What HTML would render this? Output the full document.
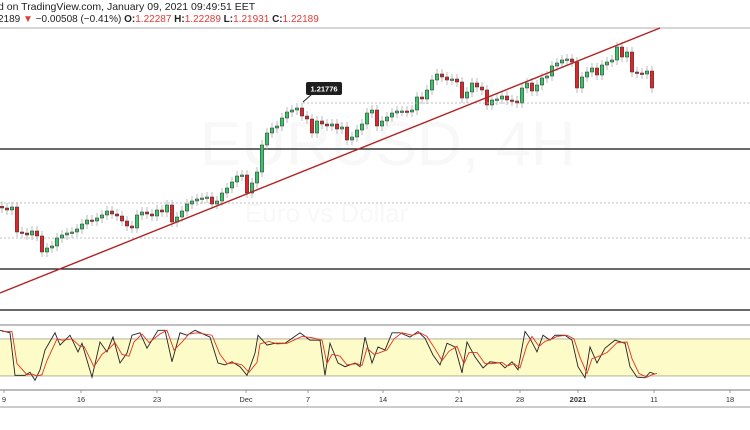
<!DOCTYPE html>
<html><head><meta charset="utf-8"><style>
body{margin:0;background:#fff;width:750px;height:430px;overflow:hidden;font-family:"Liberation Sans",sans-serif}
svg{display:block}
</style></head><body>
<svg id="chart" width="750" height="430" viewBox="0 0 750 430" xmlns="http://www.w3.org/2000/svg">
<text x="-2" y="10" font-size="10.5" fill="#222">d on TradingView.com, January 09, 2021 09:49:51 EET</text>
<text x="-2" y="22" font-size="10" fill="#222">2189 <tspan fill="#e53935">▼</tspan> −0.00508 (−0.41%) <tspan font-weight="bold">O:</tspan><tspan fill="#e53935">1.22287</tspan> <tspan font-weight="bold">H:</tspan><tspan fill="#e53935">1.22289</tspan> <tspan font-weight="bold">L:</tspan><tspan fill="#e53935">1.21931</tspan> <tspan font-weight="bold">C:</tspan><tspan fill="#e53935">1.22189</tspan></text>
<line x1="0" y1="28" x2="750" y2="28" stroke="#c8c8c8" stroke-width="1.5"/>
<text x="200" y="165" font-size="62" fill="#f8f8f8">EURUSD, 4H</text>
<text x="245" y="222" font-size="26" fill="#f8f8f8">Euro vs Dollar</text>
<g id="levels"></g>
<g id="candles"></g>
<g id="overlay"></g>
<g id="stoch"></g>
<g id="axis"></g>
</svg>
<script>
const closes=[1.1861,1.1855,1.1864,1.1789,1.1786,1.1780,1.1792,1.1777,1.1729,1.1741,1.1747,1.1771,1.1780,1.1786,1.1789,1.1798,1.1813,1.1825,1.1822,1.1831,1.1840,1.1852,1.1843,1.1837,1.1822,1.1807,1.1801,1.1840,1.1849,1.1843,1.1837,1.1855,1.1849,1.1870,1.1819,1.1834,1.1852,1.1873,1.1882,1.1888,1.1891,1.1894,1.1873,1.1882,1.1906,1.1921,1.1939,1.1957,1.1960,1.1906,1.1936,1.1969,1.2050,1.2086,1.2101,1.2107,1.2131,1.2149,1.2155,1.2161,1.2137,1.2128,1.2086,1.2122,1.2113,1.2107,1.2113,1.2098,1.2104,1.2065,1.2074,1.2095,1.2113,1.2146,1.2155,1.2107,1.2122,1.2134,1.2146,1.2152,1.2152,1.2149,1.2155,1.2194,1.2188,1.2215,1.2245,1.2263,1.2254,1.2245,1.2248,1.2239,1.2191,1.2209,1.2236,1.2224,1.2215,1.2170,1.2185,1.2188,1.2197,1.2185,1.2182,1.2176,1.2221,1.2236,1.2212,1.2230,1.2251,1.2257,1.2287,1.2296,1.2305,1.2308,1.2299,1.2221,1.2254,1.2269,1.2281,1.2260,1.2290,1.2299,1.2305,1.2344,1.2314,1.2329,1.2269,1.2266,1.2263,1.2272,1.2221];
const solidLevels=[1.2038,1.1678,1.1555];
const dottedLevels=[1.1876,1.1771];
const markedPrice=1.2176;
const markedLabel="1.21776";
const trendPrices=[1.1606,1.2401];
const stochX=[0,10,15,25,30,35,40,45,55,60,70,78,82,92,100,107,113,120,127,132,140,147,158,165,172,180,187,195,210,218,225,232,240,247,255,258,267,275,285,300,310,320,325,330,338,345,355,360,365,372,378,385,392,400,410,418,425,433,440,447,455,462,467,475,483,490,500,505,512,518,525,530,537,543,550,555,565,572,578,585,590,597,605,615,625,630,637,645,650,655];
const stochK=[94,90,21,21,26,13,30,62,90,70,86,59,73,18,75,59,83,41,57,86,90,65,94,94,43,90,86,94,83,41,38,43,35,21,57,86,70,73,73,90,78,78,21,73,41,35,41,35,83,41,67,62,90,90,83,92,81,54,38,73,67,25,75,51,33,43,41,33,43,30,92,81,59,86,78,86,86,78,35,17,67,41,65,78,73,35,18,17,26,23];
const stochD=[92,92,40,22,23,20,22,45,80,78,80,68,68,35,55,64,74,55,52,75,88,74,88,94,62,75,88,90,86,55,40,41,38,26,42,72,76,72,73,84,82,78,40,55,52,38,40,37,65,55,58,62,80,90,86,90,84,64,45,60,68,40,58,58,40,40,42,36,40,33,70,84,68,76,80,84,86,80,50,24,48,52,58,74,75,48,24,18,22,24];
const xTicks=[4,81,157,246,308,383,459,520,578,654,730];
const xLabels=["9","16","23","Dec","7","14","21","28","2021","11","18"];

const NS="http://www.w3.org/2000/svg";
function py(p){return 45+(1.2350-p)/0.0003;}
function cx(i){return 2+5*i;}
function sy(v){return 388.3-v*0.617;}
function mk(tag,attrs,parent){const e=document.createElementNS(NS,tag);for(const k in attrs)e.setAttribute(k,attrs[k]);parent.appendChild(e);return e;}

const lv=document.getElementById('levels');
solidLevels.forEach(p=>{const l=mk('line',{x1:0,x2:750,y1:py(p),y2:py(p),stroke:'#111','stroke-width':1.3},lv);

});
dottedLevels.forEach(p=>{const l=mk('line',{x1:0,x2:750,y1:py(p),y2:py(p),stroke:'#aaa','stroke-width':0.7,'stroke-dasharray':'2,2'},lv);

});

const cg=document.getElementById('candles');
closes.forEach((c,i)=>{
 const o=i>0?closes[i-1]:c+0.0005;
 const up=c>=o;const x=cx(i);
 const top=py(Math.max(o,c)),bot=py(Math.min(o,c));
 const w=mk('line',{x1:x,x2:x,y1:top-5,y2:bot+5,stroke:'#aaa','stroke-width':0.8},cg);
 
 
 const r=mk('rect',{x:x-1.7,y:top,width:3.4,height:Math.max(1.5,bot-top),fill:up?'#3cc36a':'#e0262b',stroke:'#333','stroke-width':0.5},cg);
 
 
});

const ov=document.getElementById('overlay');
const my=py(markedPrice);
const dl=mk('line',{x1:303,x2:750,y1:my,y2:my,stroke:'#aaa','stroke-width':0.7,'stroke-dasharray':'2,2'},ov);


const tl=mk('line',{x1:0,x2:660,y1:py(trendPrices[0]),y2:py(trendPrices[1]),stroke:'#b22222','stroke-width':1.4},ov);


const tail=mk('path',{d:`M303 ${my-1} L312 ${my-9}`,stroke:'#222','stroke-width':1,fill:'none'},ov);


const bx=mk('rect',{x:306,y:my-21,width:36,height:13,rx:2,fill:'#1e1e1e'},ov);


const bt=mk('text',{x:324,y:my-11.5,'font-size':7.5,fill:'#fff','text-anchor':'middle','font-weight':'bold'},ov);
bt.textContent=markedLabel;



const sg=document.getElementById('stoch');
const pb=mk('line',{x1:0,x2:750,y1:325,y2:325,stroke:'#aaa','stroke-width':1.5},sg);


const band=mk('rect',{x:0,y:sy(80),width:750,height:sy(20)-sy(80),fill:'#fdfcc9',stroke:'none'},sg);


[80,20].forEach(v=>{const l=mk('line',{x1:0,x2:750,y1:sy(v),y2:sy(v),stroke:'#a9a78a','stroke-width':0.8},sg);

});
const kp=mk('polyline',{points:stochX.map((x,i)=>x+','+sy(stochK[i])).join(' '),fill:'none',stroke:'#222','stroke-width':0.9},sg);


const dp=mk('polyline',{points:stochX.map((x,i)=>(x+2)+','+sy(stochD[i])).join(' '),fill:'none',stroke:'#e8321e','stroke-width':0.9},sg);



const ag=document.getElementById('axis');
const a1=mk('line',{x1:0,x2:750,y1:390,y2:390,stroke:'#bbb','stroke-width':2},ag);


const a2=mk('line',{x1:0,x2:750,y1:407,y2:407,stroke:'#999','stroke-width':1},ag);


xTicks.forEach((x,i)=>{
 const t=mk('line',{x1:x,x2:x,y1:390,y2:393,stroke:'#888','stroke-width':0.8},ag);
 
 
 const tx=mk('text',{x:x,y:402,'font-size':7.5,fill:'#333','text-anchor':'middle','font-weight':xLabels[i]==='2021'?'bold':'normal'},ag);
 tx.textContent=xLabels[i];
 
 
});
</script>
</body></html>
